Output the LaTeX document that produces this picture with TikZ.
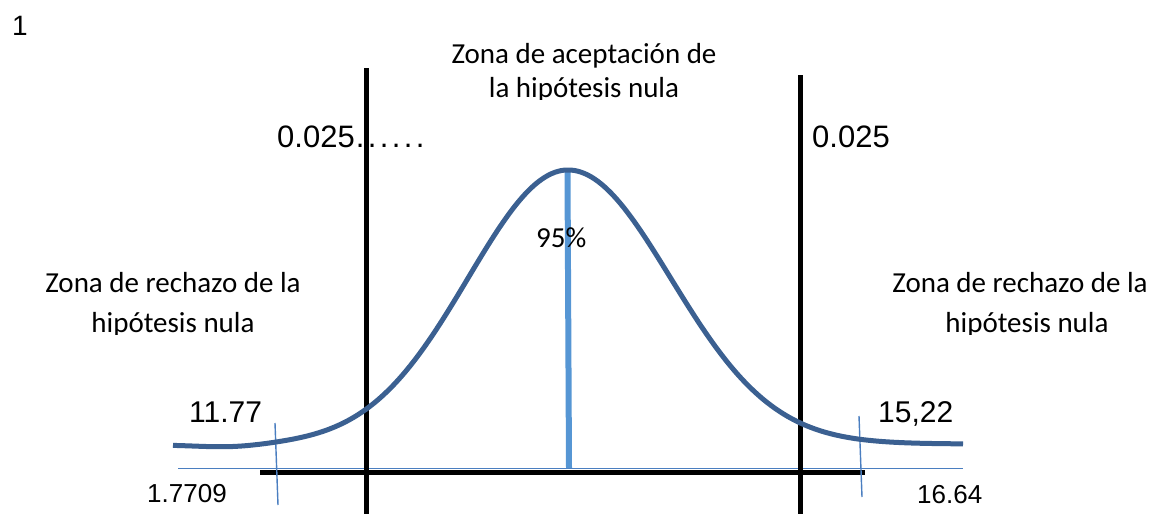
\documentclass[tikz,border=0pt]{standalone}
\usepackage{fontspec}
\setmainfont{Liberation Sans}
\newfontfamily\calfont{Carlito}
\newcommand{\sepdot}{\kern3.4pt.}
\begin{document}
\begin{tikzpicture}[x=1pt,y=-1pt,
  numtxt/.style={inner sep=0pt,anchor=base west,font=\fontsize{31}{31}\selectfont},
  smalltxt/.style={inner sep=0pt,anchor=base west,font=\fontsize{26}{26}\selectfont},
  zonatxt/.style={inner sep=0pt,anchor=base,font=\calfont\fontsize{29}{29}\selectfont},
  bigline/.style={line width=5pt,black},
  thinblue/.style={line width=1.4pt,color=tickblue},
  curve/.style={line width=5pt,color=curveblue,line join=round},
  midline/.style={line width=6pt,color=midblue}]
\definecolor{curveblue}{RGB}{59,96,145}
\definecolor{midblue}{RGB}{86,150,212}
\definecolor{tickblue}{RGB}{74,126,192}
\useasboundingbox (0,0) rectangle (1162,514);

% coordinates
\coordinate (lvt) at (366,68);
\coordinate (lvb) at (366,514);
\coordinate (rvt) at (800,75);
\coordinate (rvb) at (800,514);
\coordinate (hl) at (260,472);
\coordinate (hr) at (865,472);
\coordinate (bl) at (178,468.5);
\coordinate (br) at (963,468.5);
\coordinate (tlt) at (275,423);
\coordinate (tlb) at (278,505);
\coordinate (trt) at (859,416);
\coordinate (trb) at (862,497);
\coordinate (peak) at (567.5,172);
\coordinate (mbot) at (569,468);

% thin blue axis
\draw[thinblue] (bl) -- (br);
% thick black axis
\draw[bigline] (hl) -- (hr);
% verticals
\draw[bigline] (lvt) -- (lvb);
\draw[bigline] (rvt) -- (rvb);
% ticks
\draw[thinblue] (tlt) -- (tlb);
\draw[thinblue] (trt) -- (trb);
% center line
\draw[midline] (peak) -- (mbot);
% bell curve
\draw[curve] plot[domain=173:568,samples=120,smooth]
   (\x,{445-275*exp(-0.5*((\x-568)/100)^2)+2.5*exp(-((\x-230)/45)^2)})
   -- plot[domain=568:963,samples=120,smooth]
   (\x,{444-274*exp(-0.5*((\x-568)/102.5)^2)});

% texts
\node[inner sep=0pt,anchor=base west,font=\fontsize{28}{28}\selectfont] (one) at (12,35) {1};
\node[numtxt] (pl) at (277,147) {0.025\kern1pt.\sepdot\sepdot\sepdot\sepdot\sepdot};
\node[numtxt] (pr) at (812,147) {0.025};
\node[inner sep=0pt,anchor=base west,font=\calfont\fontsize{29}{29}\selectfont] (pct) at (536,247) {95\%};
\node[zonatxt] (za1) at (584,63) {Zona de aceptación de};
\begin{scope}
\clip (0,0) rectangle (1162,99);
\node[zonatxt] (za2) at (584,97) {la hipótesis nula};
\end{scope}
\node[zonatxt] (zl1) at (173,292) {Zona de rechazo de la};
\node[zonatxt] (zr1) at (1020,292) {Zona de rechazo de la};
\begin{scope}
\clip (0,0) rectangle (1162,334);
\node[zonatxt] (zl2) at (173,332) {hipótesis nula};
\node[zonatxt] (zr2) at (1027,332) {hipótesis nula};
\end{scope}
\node[numtxt,font=\fontsize{30}{30}\selectfont] (v1) at (189,422) {11.77};
\node[numtxt,font=\fontsize{30}{30}\selectfont] (v2) at (878,422) {15,22};
\node[smalltxt] (v3) at (147,502) {1.7709};
\node[smalltxt] (v4) at (917,503) {16.64};
\end{tikzpicture}
\end{document}
